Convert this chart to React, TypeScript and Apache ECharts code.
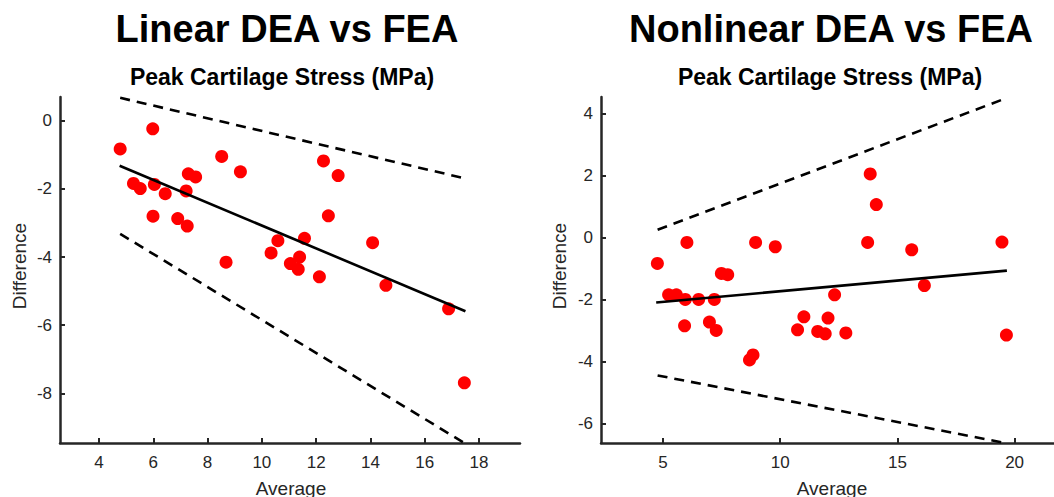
import React, { useEffect, useRef } from "react";
import * as echarts from "echarts";

// Left panel: Linear DEA vs FEA
const leftAvg = [4.78, 5.98, 5.27, 5.52, 6.04, 6.44, 5.99, 6.9, 7.25, 7.21, 7.29, 7.56, 8.52, 9.21, 8.68, 10.34, 12.27, 12.81, 12.45, 10.59, 11.57, 14.08, 11.39, 11.05, 11.34, 12.12, 14.57, 16.88, 17.46];
const leftDiff = [-0.83, -0.24, -1.84, -1.99, -1.87, -2.14, -2.8, -2.87, -3.09, -2.06, -1.56, -1.65, -1.05, -1.5, -4.15, -3.88, -1.18, -1.61, -2.79, -3.52, -3.45, -3.58, -4.0, -4.19, -4.36, -4.58, -4.83, -5.52, -7.69];
const leftReg = [[4.76, -1.32], [17.5, -5.59]];
const leftUpper = [[4.78, 0.67], [17.47, -1.69]];
const leftLower = [[4.78, -3.32], [17.47, -9.46]];
const leftXTicks = [4, 6, 8, 10, 12, 14, 16, 18];
const leftYTicks = [0, -2, -4, -6, -8];

// Right panel: Nonlinear DEA vs FEA
const rightAvg = [4.76, 6.02, 8.95, 9.79, 7.49, 7.76, 5.24, 5.57, 5.95, 6.52, 7.19, 5.92, 6.98, 7.27, 8.69, 8.84, 13.84, 14.1, 13.73, 15.61, 19.46, 16.15, 12.32, 11.01, 12.04, 10.74, 11.6, 11.92, 12.8, 19.65];
const rightDiff = [-0.84, -0.16, -0.16, -0.3, -1.16, -1.2, -1.85, -1.85, -2.0, -2.0, -2.0, -2.85, -2.73, -3.0, -3.95, -3.79, 2.05, 1.06, -0.16, -0.4, -0.15, -1.55, -1.85, -2.56, -2.6, -2.98, -3.03, -3.11, -3.08, -3.15];
const rightReg = [[4.71, -2.1], [19.67, -1.07]];
const rightUpper = [[4.77, 0.25], [19.67, 4.5]];
const rightLower = [[4.77, -4.45], [19.67, -6.64]];
const rightXTicks = [5, 10, 15, 20];
const rightYTicks = [4, 2, 0, -2, -4, -6];

const titles = ["Linear DEA vs FEA", "Nonlinear DEA vs FEA"];
const subtitle = "Peak Cartilage Stress (MPa)";
const xName = "Average";
const yName = "Difference";

const FONT = "'Liberation Sans', Arial, Helvetica, sans-serif";
const AX = "#262626";

function axis(min: number, max: number, ticks: number[], gridIndex: number, isY: boolean) {
  return {
    type: "value",
    gridIndex,
    min,
    max,
    axisLine: { show: true, onZero: false, lineStyle: { color: AX, width: 2.5 } },
    axisTick: { show: true, inside: true, length: 5, customValues: ticks, lineStyle: { color: AX, width: 2 } },
    axisLabel: { customValues: ticks, color: AX, fontSize: 17, fontFamily: FONT, margin: isY ? 8 : 11 },
    splitLine: { show: false },
  };
}

function scatter(xs: number[], ys: number[], idx: number) {
  return {
    type: "scatter",
    xAxisIndex: idx,
    yAxisIndex: idx,
    symbol: "circle",
    symbolSize: 13,
    itemStyle: { color: "#ff0000", opacity: 1 },
    data: xs.map((x, i) => [x, ys[i]]),
  };
}

function line(pts: number[][], idx: number, dashed: boolean) {
  return {
    type: "line",
    xAxisIndex: idx,
    yAxisIndex: idx,
    symbol: "none",
    clip: true,
    lineStyle: { color: "#000", width: 2.6, type: dashed ? [10, 7] : "solid" },
    data: pts,
  };
}

function txt(text: string, x: number, y: number, size: number, bold: boolean, rot = 0, color = "#000") {
  return {
    type: "text",
    x,
    y,
    rotation: rot,
    style: {
      text,
      fontSize: size,
      fontWeight: bold ? "bold" : "normal",
      fontFamily: FONT,
      fill: color,
      align: "center",
      verticalAlign: "middle",
    },
  };
}

export default function App() {
  const ref = useRef<HTMLDivElement>(null);
  useEffect(() => {
    document.body.style.margin = "0";
    const chart = echarts.init(ref.current!, null, { renderer: "svg" });
    chart.setOption({
      animation: false,
      backgroundColor: "#fff",
      grid: [
        { left: 60, top: 97, width: 460, height: 346 },
        { left: 601, top: 97, width: 453, height: 346 },
      ],
      xAxis: [axis(2.563, 19.51, leftXTicks, 0, false), axis(2.355, 21.68, rightXTicks, 1, false)],
      yAxis: [axis(-9.455, 0.695, leftYTicks, 0, true), axis(-6.63, 4.53, rightYTicks, 1, true)],
      series: [
        scatter(leftAvg, leftDiff, 0),
        line(leftReg, 0, false),
        line(leftUpper, 0, true),
        line(leftLower, 0, true),
        scatter(rightAvg, rightDiff, 1),
        line(rightReg, 1, false),
        line(rightUpper, 1, true),
        line(rightLower, 1, true),
      ],
      graphic: [
        txt(titles[0], 287, 29, 38, true),
        txt(subtitle, 282, 77, 23, true),
        txt(titles[1], 831, 29, 38, true),
        txt(subtitle, 830, 77, 23, true),
        txt(xName, 291, 488, 19, false, 0, AX),
        txt(xName, 832, 488, 19, false, 0, AX),
        txt(yName, 19, 266, 19, false, Math.PI / 2, AX),
        txt(yName, 559, 266, 19, false, Math.PI / 2, AX),
      ],
    });
    return () => chart.dispose();
  }, []);
  return <div ref={ref} style={{ position: "fixed", left: 0, top: 0, width: 1054, height: 497 }} />;
}
